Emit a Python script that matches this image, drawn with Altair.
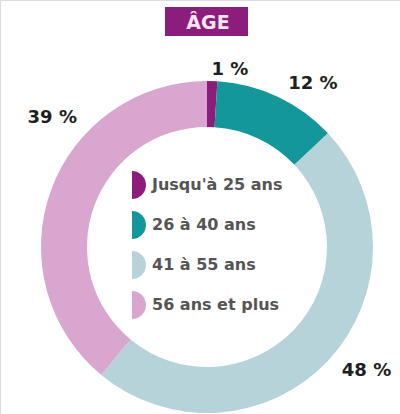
import altair as alt
import pandas as pd

# ---- data ----
categories = ["Jusqu'à 25 ans", "26 à 40 ans", "41 à 55 ans", "56 ans et plus"]
values = [1, 12, 48, 39]
labels = ["1 %", "12 %", "48 %", "39 %"]
colors = ["#8C1D7C", "#13979A", "#B5D3D8", "#D8A6CF"]
title_text = "ÂGE"

df = pd.DataFrame({"cat": categories, "val": values, "label": labels, "order": list(range(len(values)))})

# ---- layout / style ----
W, H = 400, 414
CX, CY = 207, 247
R_OUT, R_IN = 166, 120
R_LABEL = 190
# per-label nudges (dx, dy) away from the slice mid-angle position
nudges = {"1 %": (17, 13), "12 %": (25, 9), "48 %": (21, -6), "39 %": (24, -65)}

semi = "M0,-1A1,1,0,0,1,0,1Z"

base = alt.Chart(df)

arcs = base.mark_arc(innerRadius=R_IN, outerRadius=R_OUT, strokeWidth=0).encode(
    theta=alt.Theta("val:Q", stack=True),
    order=alt.Order("order:Q"),
    x=alt.value(CX),
    y=alt.value(CY),
    color=alt.Color(
        "cat:N",
        scale=alt.Scale(domain=categories, range=colors),
        sort=categories,
        legend=alt.Legend(
            title=None,
            orient="none",
            legendX=118,
            legendY=171,
            padding=0,
            symbolType=semi,
            symbolSize=784,
            symbolStrokeWidth=0,
            symbolOpacity=1,
            labelFont="DejaVu Sans",
            labelFontSize=16,
            labelFontWeight="bold",
            labelColor="#555555",
            labelOffset=6,
            rowPadding=12,
            labelLimit=300,
        ),
    ),
)

lab_base = (
    base.transform_joinaggregate(total="sum(val)")
    .transform_window(cum="sum(val)", sort=[alt.SortField("order")], frame=[None, 0])
    .transform_calculate(mid="2*PI*(datum.cum - datum.val/2)/datum.total")
    .transform_calculate(
        px=f"{CX} + {R_LABEL}*sin(datum.mid)",
        py=f"{CY} - {R_LABEL}*cos(datum.mid)",
    )
)

label_layers = []
for lab in labels:
    dx, dy = nudges[lab]
    label_layers.append(
        lab_base.transform_filter(alt.datum.label == lab)
        .mark_text(font="DejaVu Sans", fontSize=18, fontWeight="bold", color="#1e1e1e", dx=dx, dy=dy)
        .encode(
            x=alt.X("px:Q", scale=None, axis=None),
            y=alt.Y("py:Q", scale=None, axis=None),
            text="label:N",
        )
    )

title_box = alt.Chart(pd.DataFrame({"t": [title_text]})).mark_rect(color="#8B1D7D").encode(
    x=alt.value(165), x2=alt.value(248), y=alt.value(7), y2=alt.value(36)
)
title_lbl = alt.Chart(pd.DataFrame({"t": [title_text]})).mark_text(
    font="DejaVu Sans", fontSize=19, fontWeight="bold", color="#F6E4F2", baseline="middle", align="center"
).encode(x=alt.value(208), y=alt.value(23), text="t:N")

chart = alt.layer(arcs, *label_layers, title_box, title_lbl).properties(
    width=W, height=H, padding=0, autosize=alt.AutoSizeParams(type="none")
).configure_view(stroke=None).configure(background="white")

chart.save("out.html", embed_options={"renderer": "svg", "actions": False})
